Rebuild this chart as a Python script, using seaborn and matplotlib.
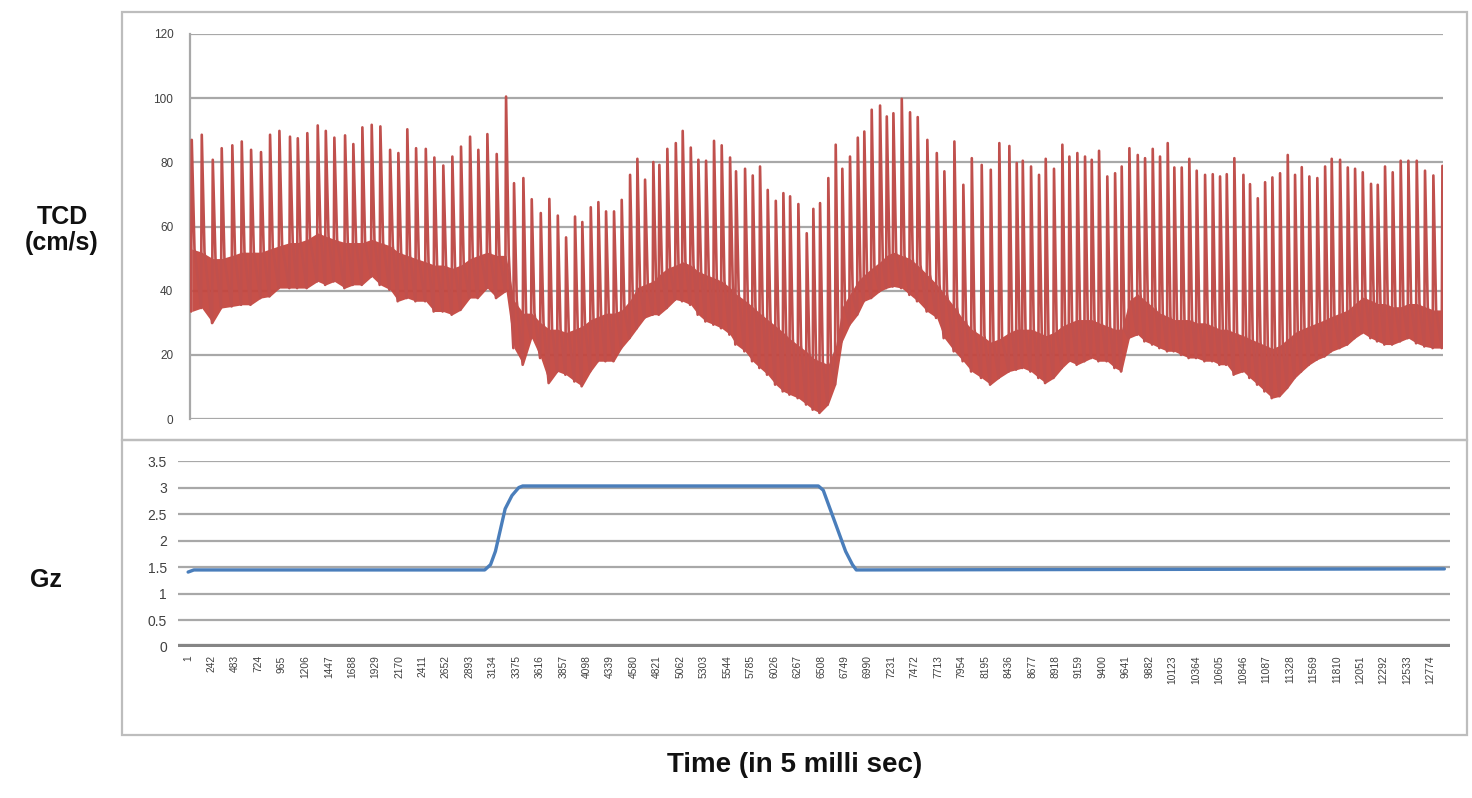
import matplotlib
matplotlib.use("Agg")
import matplotlib.pyplot as plt
import seaborn as sns
import pandas as pd
from matplotlib.patches import Rectangle

# ---------------- data ----------------
# TCD: one entry per heart beat (sample index of the systolic peak)
beat_time = [38, 141, 254, 346, 455, 552, 648, 750, 843, 939, 1048, 1128, 1226, 1333, 1416, 1504, 1614, 1699,
             1792, 1888, 1977, 2077, 2162,
             2254, 2344, 2444, 2532, 2624, 2717, 2806, 2899, 2984, 3077, 3173, 3269, 3351, 3447, 3533, 3626, 3714,
             3801, 3886, 3978, 4053, 4140, 4218, 4297,
             4379, 4458, 4544, 4619, 4698, 4783, 4845, 4927, 5014, 5085, 5168, 5246, 5325, 5407, 5486, 5572, 5633,
             5726, 5805, 5880, 5959, 6042, 6120, 6189, 6274, 6360, 6428, 6497,
             6582, 6658, 6726, 6805, 6885, 6952, 7028, 7114, 7183, 7251, 7337, 7422, 7501, 7600, 7697, 7775, 7878,
             7970, 8057, 8159, 8252, 8340, 8443, 8519, 8581,
             8666, 8748, 8817, 8902, 8988, 9060, 9142, 9221, 9290, 9365, 9450, 9530, 9598, 9677, 9763, 9838, 9917,
             9992, 10071, 10139, 10215, 10293, 10369, 10455, 10534, 10609, 10678, 10756,
             10849, 10917, 10997, 11072, 11147, 11226, 11305, 11380, 11449, 11527, 11609, 11689, 11757, 11843,
             11922, 11997, 12076, 12161, 12230, 12305, 12384, 12466, 12545, 12631, 12716, 12802, 12895]

peak_cms = [87, 88.6, 80.8, 84.4, 85.3, 86.5, 83.9, 83.2, 88.6, 89.8, 88, 87.5, 89.1, 91.5, 89.8, 87.7, 88.4, 85.7,
            90.9, 91.7, 91.2, 83.9, 82.9,
            90.3, 84.4, 84.2, 81.5, 79.0, 81.8, 84.9, 88.0, 83.9, 88.8, 82.6, 100.5, 73.5, 75.1, 68.5, 64.2, 68.6,
            63.4, 56.6, 63.1, 61.4, 66.0, 67.6, 64.7,
            64.7, 68.3, 76.1, 81.1, 74.6, 80.1, 79.2, 84.2, 86.0, 89.8, 84.6, 80.8, 80.5, 86.7, 85.3, 81.5, 77.2,
            78.0, 75.9, 78.7, 71.4, 68.0, 70.4, 69.4, 67.0, 57.9, 65.5, 67.3,
            75.1, 85.5, 78.0, 81.8, 87.7, 89.6, 96.4, 97.7, 94.3, 95.3, 99.8, 95.6, 94.1, 87.0, 82.9, 77.2, 86.5,
            73.0, 81.3, 79.2, 77.7, 86.0, 85.1, 79.8, 80.5,
            78.7, 76.1, 81.1, 78.0, 85.5, 81.8, 82.9, 81.8, 80.8, 83.6, 75.6, 76.6, 78.7, 84.4, 82.3, 81.3, 84.2,
            81.8, 86.0, 78.4, 78.4, 81.1, 77.4, 76.1, 76.3, 75.6, 76.3, 81.3,
            76.1, 73.2, 68.8, 73.8, 75.3, 76.6, 82.3, 76.1, 78.5, 75.6, 75.1, 78.7, 81.1, 80.8, 78.4, 78.0, 76.9,
            73.3, 73.0, 78.7, 76.9, 80.5, 80.5, 80.5, 77.4, 75.9, 78.9]

trough_cms = [33.5, 34.6, 29.9, 34.6, 35.1, 35.6, 35.6, 37.7, 38.2, 40.8, 40.8, 40.8, 40.8, 42.9, 41.8, 42.9, 40.8,
              41.8, 41.8, 44.4, 41.8, 40.3, 36.7,
              37.7, 36.7, 36.7, 33.5, 33.5, 32.5, 34.0, 37.7, 37.7, 40.8, 37.7, 39.8, 22.1, 16.9, 25.2, 19.0, 11.2,
              14.8, 13.8, 11.7, 10.2, 14.8, 18.0, 18.0,
              18, 22.1, 25.2, 28.3, 31.5, 32.5, 32.5, 34.6, 37.2, 36.7, 35.6, 32.5, 30.4, 29.4, 28.3, 26.3, 23.2,
              21.1, 18, 15.9, 13.8, 10.7, 8.6, 7.6, 6.5, 4.5, 2.9, 1.9,
              4.5, 10.7, 24.2, 29.4, 32.5, 36.7, 37.7, 39.8, 40.8, 41.3, 40.8, 38.7, 36.7, 33.5, 31.5, 25.2, 21.1,
              18, 14.8, 12.8, 10.7, 12.8, 14.8, 15.4, 15.9,
              14.8, 12.8, 11.2, 12.8, 15.9, 18, 16.9, 18, 19, 18, 18, 15.9, 14.8, 25.2, 26.3, 24.2, 23.2, 22.1,
              21.1, 21.1, 20, 19, 19, 18, 18, 16.9, 16.9, 13.8,
              14.8, 12.8, 10.7, 8.6, 6.5, 7.1, 9.7, 12.8, 14.8, 16.9, 18.5, 19.5, 21.1, 22.1, 23.2, 25.2, 26.8,
              25.2, 24.2, 23.2, 23.2, 24.2, 25.2, 23.6, 22.6, 22.1, 22.1]

band_top_cms = [53, 52, 50, 50, 51, 52, 52, 52, 53, 54, 55, 55, 56, 58, 57, 56, 55, 55, 55, 56, 55, 54, 52,
                51, 50, 49, 48, 48, 47, 48, 50, 51, 52, 51, 51, 37, 33, 33, 30, 28, 28, 27, 28, 29, 31, 32, 33,
                33, 34, 37, 41, 42, 43, 45, 47, 48, 49, 48, 46, 45, 44, 43, 41, 39, 37, 35, 33, 31, 29, 27, 25,
                23, 21, 19, 18,
                17, 23, 35, 39, 43, 45, 47, 49, 51, 52, 51, 50, 48, 45, 42, 39, 35, 31, 28, 26, 24, 25, 27, 28, 28,
                28, 27, 26, 27, 29, 30, 31, 31, 31, 30, 29, 28, 28, 37, 39, 37, 35, 33, 32, 31, 31, 31, 30, 30,
                29, 28, 28, 27,
                26, 25, 24, 23, 22, 23, 25, 27, 28, 29, 30, 31, 32, 33, 34, 36, 38, 37, 36, 36, 35, 35, 36, 36,
                35, 34, 34]

tcd_start = (1, 40.0)
tcd_end = (12915, 45.0)

# Gz trace
gz_time = [1, 60, 3050, 3110, 3160, 3210, 3260, 3330, 3400, 3440, 6480, 6530, 6600, 6680, 6760, 6830, 6870, 12915]
gz_value = [1.41, 1.45, 1.45, 1.55, 1.8, 2.2, 2.6, 2.85, 3.0, 3.03, 3.03, 2.95, 2.6, 2.2, 1.8, 1.55, 1.45, 1.47]

x_tick_labels = ["1", "242", "483", "724", "965", "1206", "1447", "1688", "1929", "2170", "2411", "2652",
                 "2893", "3134", "3375", "3616", "3857", "4098", "4339", "4580", "4821", "5062", "5303", "5544",
                 "5785", "6026", "6267", "6508", "6749", "6990", "7231", "7472", "7713", "7954", "8195", "8436",
                 "8677", "8918", "9159", "9400", "9641", "9882", "10123", "10364", "10605", "10846", "11087",
                 "11328", "11569", "11810", "12051", "12292", "12533", "12774"]
tcd_yticks = [0, 20, 40, 60, 80, 100, 120]
gz_yticks = [0, 0.5, 1, 1.5, 2, 2.5, 3, 3.5]
gz_ytick_labels = ["0", "0.5", "1", "1.5", "2", "2.5", "3", "3.5"]

# ---------------- build vertex tables ----------------
n = min(len(beat_time), len(peak_cms), len(trough_cms), len(band_top_cms))
tx, ty = [tcd_start[0]], [tcd_start[1]]
for i in range(n):
    t = beat_time[i]
    tx += [t - 7, t, t + 28]
    ty += [trough_cms[i], peak_cms[i], band_top_cms[i]]
tx.append(tcd_end[0]); ty.append(tcd_end[1])
tcd_df = pd.DataFrame({"t": tx, "v": ty})
gz_df = pd.DataFrame({"t": gz_time, "g": gz_value})

# ---------------- figure ----------------
sns.set_style("white")
plt.rcParams["font.family"] = ["Liberation Sans", "DejaVu Sans"]

W, H = 1472, 798
fig = plt.figure(figsize=(W / 100, H / 100), dpi=100)

RED = "#C0504D"
BAND = "#C4463F"
BLUE = "#4A7EBB"
GRID = "#A8A8A8"
TICKC = "#404040"

def fx(px):
    return px / W

def fy(py):
    return 1 - py / H

# panel frames
for (x0, y0, x1, y1) in [(122, 12, 1467, 440), (122, 440, 1467, 735)]:
    fig.patches.append(Rectangle((fx(x0), fy(y1)), fx(x1) - fx(x0), fy(y0) - fy(y1), fill=False,
                                 edgecolor="#BDBDBD", lw=1.6, transform=fig.transFigure, zorder=0))

# top axes: px 190..1443, y 34..419
ax1 = fig.add_axes([fx(190), fy(419), fx(1443) - fx(190), fy(34) - fy(419)])
ax1.fill_between(beat_time[:n], trough_cms[:n], band_top_cms[:n], color=BAND, alpha=0.95, lw=0, zorder=2)
sns.lineplot(data=tcd_df, x="t", y="v", ax=ax1, color=RED, lw=1.9, estimator=None, sort=False, zorder=3)
ax1.set_xlim(20, 12901)
ax1.set_ylim(0, 120)
ax1.set_yticks(tcd_yticks)
ax1.set_yticklabels([str(v) for v in tcd_yticks], fontsize=8.5, color=TICKC)
ax1.set_xticks([])
ax1.yaxis.grid(True, color=GRID, lw=1.6, zorder=0)
ax1.set_axisbelow(True)
for s in ["top", "right", "bottom"]:
    ax1.spines[s].set_visible(False)
ax1.spines["left"].set_color(GRID)
ax1.spines["left"].set_linewidth(1.6)
ax1.tick_params(axis="y", length=4, width=1.4, color=GRID, pad=8)
ax1.set_xlabel(""); ax1.set_ylabel("")

# bottom axes: px 178..1450, y 461..647
ax2 = fig.add_axes([fx(178), fy(647), fx(1450) - fx(178), fy(461) - fy(647)])
sns.lineplot(data=gz_df, x="t", y="g", ax=ax2, color=BLUE, lw=2.4, estimator=None, sort=False, zorder=3)
ax2.set_xlim(-103, 12973)
ax2.set_ylim(0, 3.5)
ax2.set_yticks(gz_yticks)
ax2.set_yticklabels(gz_ytick_labels, fontsize=10, color=TICKC)
tick_pos = [int(s) for s in x_tick_labels]
ax2.set_xticks(tick_pos)
ax2.set_xticklabels(x_tick_labels, rotation=90, fontsize=7.4, color=TICKC, va="top", ha="center")
ax2.yaxis.grid(True, color=GRID, lw=1.6, zorder=0)
ax2.set_axisbelow(True)
ax2.axhline(0, color="#858585", lw=4.5, zorder=2)
for s in ["top", "right", "left", "bottom"]:
    ax2.spines[s].set_visible(False)
ax2.tick_params(axis="y", length=0, pad=8)
ax2.tick_params(axis="x", length=0, pad=6)
ax2.set_xlabel(""); ax2.set_ylabel("")

# axis titles
fig.text(fx(62), fy(230), "TCD\n(cm/s)", ha="center", va="center", fontsize=18, fontweight="bold",
         linespacing=1.15, color="#111111")
fig.text(fx(46), fy(580), "Gz", ha="center", va="center", fontsize=18, fontweight="bold", color="#111111")
fig.text(fx(795), fy(765), "Time (in 5 milli sec)", ha="center", va="center", fontsize=20, fontweight="bold",
         color="#111111")

fig.savefig("out.png", dpi=100)
